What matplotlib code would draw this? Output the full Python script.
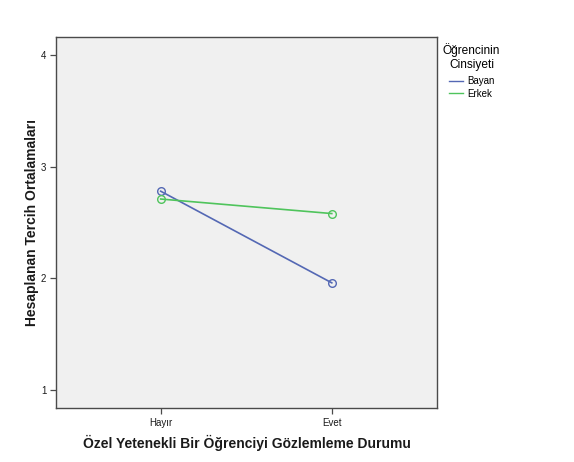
import matplotlib.pyplot as plt

plt.rcParams["font.family"] = ["Liberation Sans", "DejaVu Sans"]

CATEGORIES = ["Hayır", "Evet"]
SERIES = ["Bayan", "Erkek"]
MEANS = {
    "Bayan": [2.78, 1.96],
    "Erkek": [2.71, 2.58],
}
Y_TICKS = [1, 2, 3, 4]

COLORS = {"Bayan": "#5468B4", "Erkek": "#4FC45C"}
PANEL = "#F0F0F0"
FRAME = "#4A4A4A"
INK = "#1A1A1A"

fig = plt.figure(figsize=(5.74, 4.62), dpi=100, facecolor="white")
ax = fig.add_axes([0.0976, 0.1169, 0.6637, 0.8030])
ax.set_facecolor(PANEL)

x = list(range(len(CATEGORIES)))
for name in SERIES:
    ax.plot(
        x,
        MEANS[name],
        color=COLORS[name],
        linewidth=1.2,
        marker="o",
        markersize=5.5,
        markerfacecolor="none",
        markeredgecolor=COLORS[name],
        markeredgewidth=1.0,
        label=name,
    )

ax.set_xlim(-0.612, 1.615)
ax.set_ylim(0.84, 4.16)
ax.set_xticks(x, CATEGORIES)
ax.set_yticks(Y_TICKS)
ax.tick_params(axis="both", direction="out", length=4, width=0.9,
               color=FRAME, labelsize=7, labelcolor=INK, pad=3)

for spine in ax.spines.values():
    spine.set_color(FRAME)
    spine.set_linewidth(1.0)

ax.set_xlabel("Özel Yetenekli Bir Öğrenciyi Gözlemleme Durumu",
              fontsize=10, fontweight="bold", color=INK, labelpad=5)
ax.set_ylabel("Hesaplanan Tercih Ortalamaları",
              fontsize=10, fontweight="bold", color=INK, labelpad=1.5)

leg = fig.legend(
    loc="upper left",
    bbox_to_anchor=(0.765, 0.916),
    frameon=False,
    title="Öğrencinin\nCinsiyeti",
    fontsize=7,
    title_fontsize=8.6,
    handlelength=1.5,
    handletextpad=0.4,
    labelspacing=0.22,
    borderaxespad=0,
)
leg.get_title().set_multialignment("center")
leg.get_title().set_linespacing(1.25)
leg._legend_box.sep = 4
for line in leg.get_lines():
    line.set_marker("")
    line.set_linewidth(1.0)

fig.savefig("out.png", dpi=100, facecolor="white")
